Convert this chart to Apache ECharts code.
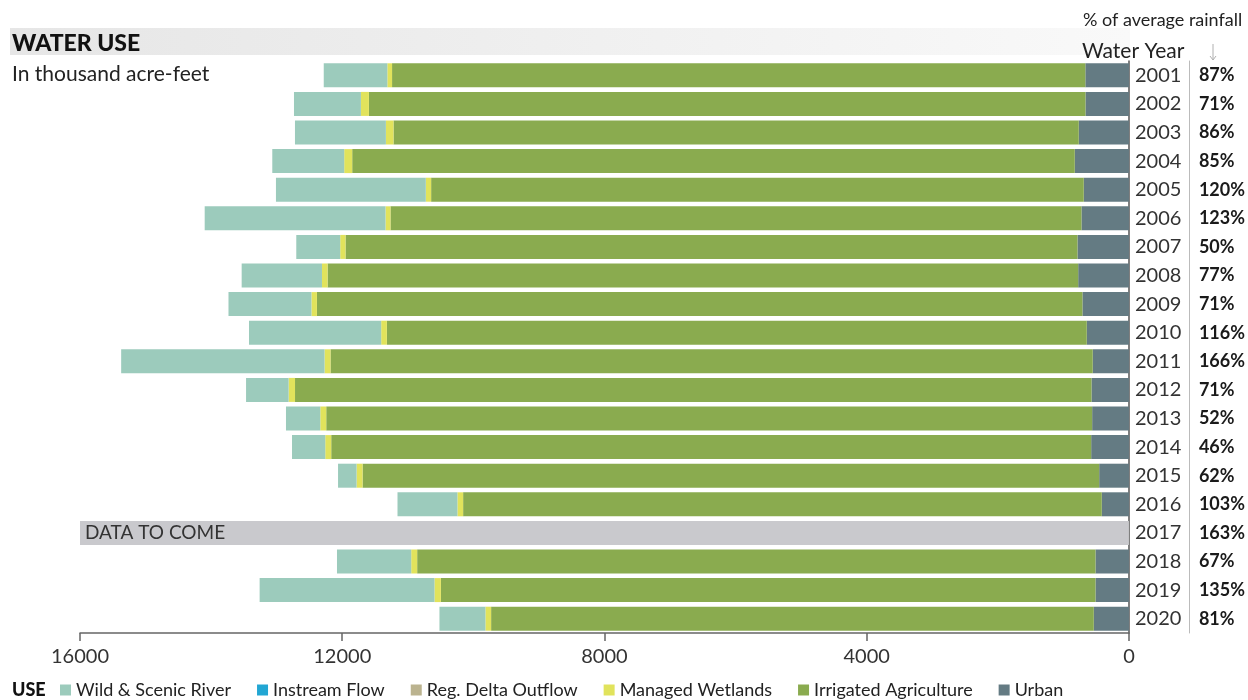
<!DOCTYPE html>
<html>
<head>
<meta charset="utf-8">
<script src="https://cdn.jsdelivr.net/npm/echarts@6/dist/echarts.min.js"></script>
<style>
  html, body { margin: 0; padding: 0; background: #ffffff; }
  #chart { width: 1248px; height: 700px; }
</style>
</head>
<body>
<div id="chart"></div>
<script>
// ---- Data (thousand acre-feet) ----
const years = ['2001','2002','2003','2004','2005','2006','2007','2008','2009','2010',
               '2011','2012','2013','2014','2015','2016','2017','2018','2019','2020'];
const rainfallPct = [87, 71, 86, 85, 120, 123, 50, 77, 71, 116,
                     166, 71, 52, 46, 62, 103, 163, 67, 135, 81];
const urban      = [665, 663, 765, 826, 689, 724, 785, 774, 709, 643,
                    552, 571, 561, 576, 454, 414, '-', 510, 510, 536];
const irrigated  = [10575, 10930, 10453, 11022, 9955, 10540, 11165, 11450, 11677, 10676,
                    11627, 12149, 11683, 11592, 11236, 9742, '-', 10347, 9985, 9193];
const wetlands   = [72, 122, 116, 122, 81, 76, 81, 85, 84, 87,
                    91, 98, 91, 91, 91, 87, '-', 91, 98, 87];
const deltaOut   = [0, 0, 0, 0, 0, 0, 0, 0, 0, 0, 0, 0, 0, 0, 0, 0, '-', 0, 0, 0];
const instream   = [0, 0, 0, 0, 0, 0, 0, 0, 0, 0, 0, 0, 0, 0, 0, 0, '-', 0, 0, 0];
const wildScenic = [970, 1021, 1387, 1097, 2286, 2758, 670, 1225, 1265, 2016,
                    3102, 649, 523, 507, 283, 914, '-', 1132, 2667, 701];
const noData     = ['-','-','-','-','-','-','-','-','-','-','-','-','-','-','-','-', 16000, '-','-','-'];
const xTicks = { min: 0, max: 16000, interval: 4000 };

const FONT = 'Lato, "Noto Sans", sans-serif';
const chart = echarts.init(document.getElementById('chart'), null, { renderer: 'canvas' });

function barSeries(name, data, color) {
  return {
    name, type: 'bar', stack: 'use', data, barWidth: 24,
    itemStyle: { color }, silent: true, animation: false
  };
}

const option = {
  backgroundColor: '#ffffff',
  animation: false,
  textStyle: { fontFamily: FONT },
  grid: { left: 80, right: 118, top: 61, bottom: 67, containLabel: false },
  title: [
    { text: 'WATER USE', left: 12, top: 32, padding: 0,
      textStyle: { fontFamily: FONT, fontSize: 23, fontWeight: 900, color: '#111' } },
    { text: 'In thousand acre-feet', left: 12, top: 64, padding: 0,
      textStyle: { fontFamily: FONT, fontSize: 21, fontWeight: 'normal', color: '#222' } },
    { text: '% of average rainfall', left: 1083, top: 11, padding: 0,
      textStyle: { fontFamily: FONT, fontSize: 18, fontWeight: 'normal', color: '#222' } },
    { text: 'Water Year', left: 1082, top: 41, padding: 0,
      textStyle: { fontFamily: FONT, fontSize: 21, fontWeight: 'normal', color: '#222' } },
    { text: 'USE', left: 12, top: 681, padding: 0,
      textStyle: { fontFamily: FONT, fontSize: 18, fontWeight: 900, color: '#111' } }
  ],
  graphic: [
    { type: 'rect', z: -10, left: 10, top: 28, shape: { width: 1120, height: 27 },
      style: { fill: new echarts.graphic.LinearGradient(0, 0, 1, 0, [
        { offset: 0, color: '#e6e6e6' }, { offset: 1, color: '#f9f9f9' }]) } },
    { type: 'polyline', shape: { points: [[1213, 44], [1213, 60]] },
      style: { stroke: '#b0b0b0', lineWidth: 1 } },
    { type: 'polyline', shape: { points: [[1210, 56], [1213, 60], [1216, 56]] },
      style: { stroke: '#b0b0b0', lineWidth: 1, fill: null } }
  ],
  legend: {
    left: 60, top: 681, padding: 0, icon: 'rect', itemWidth: 11, itemHeight: 11, itemGap: 26,
    selectedMode: false,
    data: ['Wild & Scenic River', 'Instream Flow', 'Reg. Delta Outflow',
           'Managed Wetlands', 'Irrigated Agriculture', 'Urban'],
    textStyle: { fontFamily: FONT, fontSize: 18, color: '#222' }
  },
  xAxis: {
    type: 'value', inverse: true, position: 'bottom',
    min: xTicks.min, max: xTicks.max, interval: xTicks.interval,
    axisLine: { show: true, lineStyle: { color: '#666', width: 1.5 } },
    axisTick: { show: true, length: 8, lineStyle: { color: '#666', width: 1.5 } },
    axisLabel: { fontFamily: FONT, fontSize: 20, color: '#333', margin: 14,
      formatter: v => String(v) },
    splitLine: { show: false }
  },
  yAxis: [
    {
      type: 'category', data: years, inverse: true, position: 'right',
      axisLine: { show: true, lineStyle: { color: '#555', width: 1.5 } },
      axisTick: { show: false },
      axisLabel: { fontFamily: FONT, fontSize: 20, color: '#333', margin: 6 }
    },
    {
      type: 'category', data: years, inverse: true, position: 'right', offset: 60,
      axisLine: { show: true, lineStyle: { color: '#bbbbbb', width: 1 } },
      axisTick: { show: false },
      axisLabel: { fontFamily: FONT, fontSize: 18, fontWeight: 'bold', color: '#1a1a1a', margin: 10,
        formatter: (v, i) => rainfallPct[i] + '%' }
    }
  ],
  series: [
    barSeries('Urban', urban, '#647b83'),
    barSeries('Irrigated Agriculture', irrigated, '#8aab4f'),
    barSeries('Managed Wetlands', wetlands, '#e1e35c'),
    barSeries('Reg. Delta Outflow', deltaOut, '#bbb38f'),
    barSeries('Instream Flow', instream, '#22a6d3'),
    barSeries('Wild & Scenic River', wildScenic, '#9ccbbc'),
    {
      name: 'noData', type: 'bar', stack: 'use', data: noData, barWidth: 24,
      itemStyle: { color: '#c9c9cd' }, silent: true,
      label: { show: true, position: 'insideLeft', formatter: 'DATA TO COME',
        fontFamily: FONT, fontSize: 19, color: '#333', distance: 5 }
    }
  ]
};
chart.setOption(option);
</script>
</body>
</html>
